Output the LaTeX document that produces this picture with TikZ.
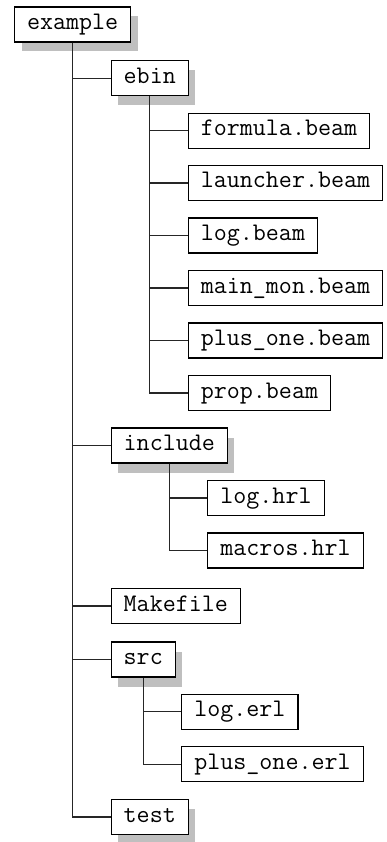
\documentclass[tikz,border=0pt]{standalone}
\usepackage{fontspec}
\usetikzlibrary{shadows,calc}
\tikzset{
  entry/.style={draw=black, line width=1.1pt, fill=white, anchor=west,
    font=\fontsize{25.3}{30}\selectfont\ttfamily, inner xsep=12.5pt, inner ysep=7pt,
    text height=15.5pt, text depth=5.5pt},
  dirbox/.style={entry, drop shadow={shadow xshift=7pt, shadow yshift=-9.5pt, fill=black!25, opacity=1}},
  link/.style={draw=black!85, line width=1.1pt},
}
\begin{document}
\begin{tikzpicture}
\useasboundingbox (0,0) rectangle (387pt,-842pt);
\node[dirbox] (example) at (14pt,-24.5pt) {example};
\coordinate (c0) at ($(example.south)+(38pt,0)$);
\node[dirbox] (ebin) at (c0 |- 0,-78.3pt) {ebin};
\coordinate (c1) at ($(ebin.south)+(38pt,0)$);
\node[entry] (f1) at (c1 |- 0,-130.7pt) {formula.beam};
\node[entry] (f2) at (c1 |- 0,-183.0pt) {launcher.beam};
\node[entry] (f3) at (c1 |- 0,-235.5pt) {log.beam};
\node[entry] (f4) at (c1 |- 0,-288.0pt) {main\_mon.beam};
\node[entry] (f5) at (c1 |- 0,-340.5pt) {plus\_one.beam};
\node[entry] (f6) at (c1 |- 0,-393.0pt) {prop.beam};
\node[dirbox] (include) at (c0 |- 0,-445.5pt) {include};
\coordinate (c2) at ($(include.south)+(38pt,0)$);
\node[entry] (h1) at (c2 |- 0,-498.0pt) {log.hrl};
\node[entry] (h2) at (c2 |- 0,-550.5pt) {macros.hrl};
\node[entry] (make) at (c0 |- 0,-606.0pt) {Makefile};
\node[dirbox] (src) at (c0 |- 0,-659.5pt) {src};
\coordinate (c3) at ($(src.south)+(38pt,0)$);
\node[entry] (s1) at (c3 |- 0,-711.8pt) {log.erl};
\node[entry] (s2) at (c3 |- 0,-764.1pt) {plus\_one.erl};
\node[dirbox] (test) at (c0 |- 0,-817.0pt) {test};
\foreach \n in {ebin,include,make,src,test} \draw[link] (example.south) |- (\n.west);
\foreach \n in {f1,f2,f3,f4,f5,f6} \draw[link] (ebin.south) |- (\n.west);
\foreach \n in {h1,h2} \draw[link] (include.south) |- (\n.west);
\foreach \n in {s1,s2} \draw[link] (src.south) |- (\n.west);
\end{tikzpicture}
\end{document}
